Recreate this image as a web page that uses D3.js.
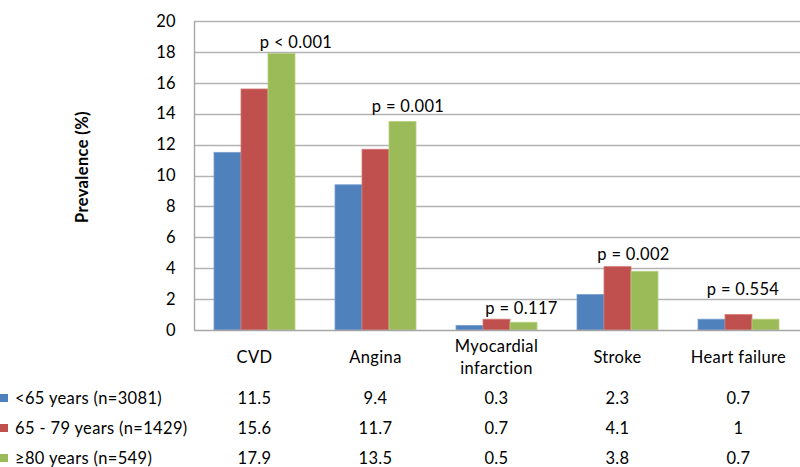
<!DOCTYPE html>
<html><head><meta charset="utf-8">
<script src="https://cdn.jsdelivr.net/npm/d3@7"></script>
<style>body{margin:0;background:#fff}svg{display:block}text{font-family:Lato,"Open Sans",sans-serif;fill:#000;letter-spacing:0.35px}</style>
</head><body><svg id="c" width="800" height="467"></svg>
<script>
(function(){
const categories = ["CVD", "Angina", "Myocardial\ninfarction", "Stroke", "Heart failure"];
const seriesNames = ["<65 years (n=3081)", "65 - 79 years (n=1429)", "\u226580 years (n=549)"];
const under65 = [11.5, 9.4, 0.3, 2.3, 0.7];
const age65to79 = [15.6, 11.7, 0.7, 4.1, 1];
const over80 = [17.9, 13.5, 0.5, 3.8, 0.7];
const tableLabels = ["11.5","9.4","0.3","2.3","0.7","15.6","11.7","0.7","4.1","1","17.9","13.5","0.5","3.8","0.7"];
const pValues = ["p < 0.001", "p = 0.001", "p = 0.117", "p = 0.002", "p = 0.554"];
const yTicks = [0, 2, 4, 6, 8, 10, 12, 14, 16, 18, 20];

const series = [under65, age65to79, over80];
const colors = ["#4F81BD", "#C0504D", "#9BBB59"];
const strokes = ["#7a9fd0", "#d27a77", "#b6d07f"];
const FS = "16.5px";

const svg = d3.select("#c");
const pl = 194, pr = 799, pt = 21, pb = 330;
const x = d3.scaleBand().domain(d3.range(categories.length)).range([pl, pr]).paddingInner(0).paddingOuter(0);
const y = d3.scaleLinear().domain([0, 20]).range([pb, pt]);
const inner = d3.scaleBand().domain(d3.range(series.length)).range([0, x.bandwidth() * 81/121]);
const groupOff = x.bandwidth() * 20/121;

svg.append("g").selectAll("line").data(yTicks.filter(d => d > 0)).join("line")
  .attr("x1", pl).attr("x2", 800).attr("y1", d => Math.round(y(d)) + 0.5).attr("y2", d => Math.round(y(d)) + 0.5)
  .attr("stroke", "#b3b3b3").attr("stroke-width", 1.4);

const yAxis = d3.axisLeft(y).tickValues(yTicks).tickSize(0).tickPadding(18);
const ga = svg.append("g").attr("transform", `translate(${pl},0)`).call(yAxis);
ga.select(".domain").attr("stroke", "#a6a6a6").attr("stroke-width", 1.4);
ga.selectAll("text").style("font-size", FS).style("font-family", "Lato,'Open Sans',sans-serif");

series.forEach((vals, s) => {
  svg.append("g").selectAll("rect").data(vals).join("rect")
    .attr("x", (d, i) => x(i) + groupOff + inner(s))
    .attr("width", inner.bandwidth())
    .attr("y", d => y(d))
    .attr("height", d => y(0) - y(d))
    .attr("fill", colors[s]).attr("stroke", strokes[s]).attr("stroke-width", 0.8);
});

svg.append("line").attr("x1", pl).attr("x2", 800).attr("y1", pb + 0.5).attr("y2", pb + 0.5)
  .attr("stroke", "#a6a6a6").attr("stroke-width", 1.4);

const pDx = [41.5, 32.5, 25, 16, 4.5];
const pY = [18.6, 14.5, 1.4, 4.9, 2.65];
svg.append("g").selectAll("text").data(pValues).join("text")
  .attr("x", (d, i) => x(i) + x.bandwidth() / 2 + pDx[i])
  .attr("y", (d, i) => y(pY[i]))
  .attr("dy", "0.35em").attr("text-anchor", "middle").style("font-size", FS).text(d => d);

const cat = svg.append("g").selectAll("text").data(categories).join("text")
  .attr("text-anchor", "middle").style("font-size", FS);
cat.each(function(d, i) {
  const lines = d.split("\n");
  const t = d3.select(this);
  const cy = lines.length === 1 ? 357 : 346;
  lines.forEach((ln, k) => {
    t.append("tspan").attr("x", x(i) + x.bandwidth() / 2).attr("y", cy + k * 22).attr("dy", "0.35em").text(ln);
  });
});

const rowY = [398, 428, 458];
series.forEach((vals, s) => {
  svg.append("rect").attr("x", 0).attr("y", rowY[s] - 4).attr("width", 8).attr("height", 8).attr("fill", colors[s]);
  svg.append("text").attr("x", 15).attr("y", rowY[s]).attr("dy", "0.35em").style("font-size", FS).text(seriesNames[s]);
  svg.append("g").selectAll("text").data(vals).join("text")
    .attr("x", (d, i) => x(i) + x.bandwidth() / 2).attr("y", rowY[s]).attr("dy", "0.35em")
    .attr("text-anchor", "middle").style("font-size", FS)
    .text((d, i) => tableLabels[s * categories.length + i]);
});

svg.append("text").attr("transform", "translate(82,167) rotate(-90)").attr("text-anchor", "middle")
  .attr("dy", "0.35em").style("font-size", FS).style("font-weight", "bold").text("Prevalence (%)");
})();
</script></body></html>
